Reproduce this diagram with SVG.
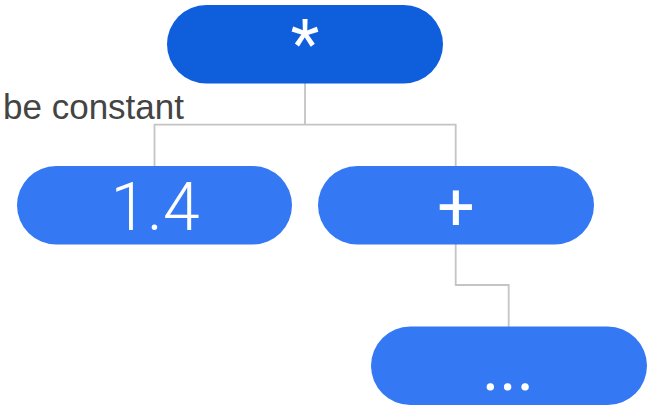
<svg xmlns="http://www.w3.org/2000/svg" width="649" height="406" viewBox="0 0 649 406">
  <style>
    .node { fill: #3479f3; }
    .root { fill: #0f5fdd; }
    .lbl { fill: #ffffff; font-family: Roboto, "Liberation Sans", sans-serif; font-weight: 300; font-size: 66px; text-anchor: middle; }
    .op { font-weight: 400; }
    .edge { fill: none; stroke: #c4c4c4; stroke-width: 1.8; }
    .note { fill: #444444; font-family: "Liberation Sans", Arial, sans-serif; font-size: 35px; text-anchor: end; }
  </style>
  <rect width="649" height="406" fill="#ffffff"/>

  <text class="note" x="184" y="119">be constant</text>

  <g id="connectors">
    <path class="edge" d="M305 83 V124.7 M154.5 166 V124.7 H455.7 V166"/>
    <path class="edge" d="M455.7 244 V285 H508.7 V327"/>
  </g>

  <g id="node-mul">
    <rect class="root" x="167" y="5" width="276" height="78.5" rx="39.25"/>
    <text class="lbl op" x="305" y="67">*</text>
  </g>

  <g id="node-const">
    <rect class="node" x="17" y="166" width="275" height="78.5" rx="39.25"/>
    <text class="lbl" x="155" y="230">1.4</text>
  </g>

  <g id="node-add">
    <rect class="node" x="318" y="166" width="276" height="78.5" rx="39.25"/>
    <text class="lbl op" x="456" y="230">+</text>
  </g>

  <g id="node-rest">
    <rect class="node" x="371" y="326.5" width="276" height="78.5" rx="39.25"/>
    <text class="lbl op" x="508" y="390">...</text>
  </g>
</svg>
